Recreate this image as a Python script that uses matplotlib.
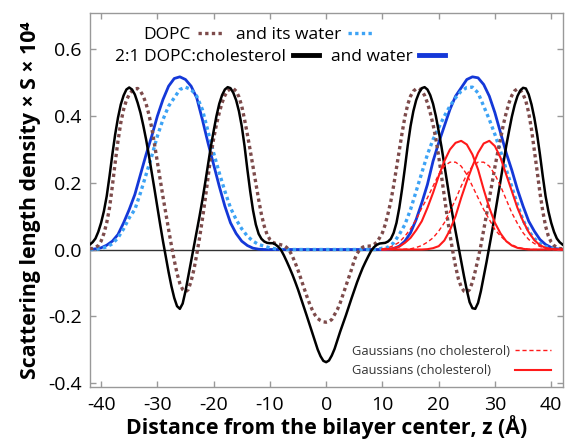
import numpy as np
import matplotlib
matplotlib.use("Agg")
import matplotlib.pyplot as plt

plt.rcParams['font.family'] = ['Open Sans', 'DejaVu Sans']
plt.rcParams['axes.unicode_minus'] = False

# distance from bilayer centre (A)
z_fine = np.arange(-42, 42.5, 0.5)   # sharp total profiles, read every 0.5 A
z = np.arange(-42, 43)               # water profiles, read every 1 A
zg = np.arange(10, 43)               # Gaussian components, right leaflet

# 2:1 DOPC:cholesterol, total profile (black)
chol = [0.015, 0.022, 0.033, 0.053, 0.08, 0.115, 0.16, 0.22, 0.285, 0.345,
        0.395, 0.435, 0.462, 0.48, 0.486, 0.48, 0.465, 0.44, 0.41, 0.372,
        0.33, 0.282, 0.232, 0.18, 0.127, 0.075, 0.025, -0.022, -0.068, -0.11,
        -0.145, -0.17, -0.178, -0.162, -0.125, -0.08, -0.035, 0.01, 0.055, 0.1,
        0.148, 0.2, 0.255, 0.308, 0.355, 0.4, 0.437, 0.463, 0.48, 0.487,
        0.484, 0.47, 0.448, 0.415, 0.37, 0.31, 0.24, 0.175, 0.118, 0.075,
        0.047, 0.032, 0.024, 0.02, 0.019, 0.019, 0.015, 0.008, -0.002, -0.018,
        -0.036, -0.055, -0.075, -0.097, -0.12, -0.145, -0.17, -0.196, -0.222, -0.248,
        -0.274, -0.3, -0.32, -0.334, -0.338,
        -0.333, -0.318, -0.298, -0.272, -0.246, -0.222, -0.198, -0.172, -0.147, -0.122,
        -0.098, -0.076, -0.055, -0.037, -0.02, -0.004, 0.007, 0.014, 0.018, 0.019,
        0.02, 0.024, 0.032, 0.05, 0.08, 0.125, 0.182, 0.245, 0.312, 0.37,
        0.415, 0.448, 0.47, 0.484, 0.487, 0.48, 0.463, 0.437, 0.4, 0.355,
        0.308, 0.255, 0.2, 0.148, 0.1, 0.055, 0.01, -0.035, -0.08, -0.122,
        -0.158, -0.176, -0.178, -0.16, -0.125, -0.082, -0.038, 0.008, 0.055, 0.105,
        0.155, 0.207, 0.258, 0.31, 0.355, 0.398, 0.433, 0.46, 0.477, 0.485,
        0.483, 0.465, 0.435, 0.395, 0.345, 0.285, 0.22, 0.16, 0.115, 0.08,
        0.053, 0.033, 0.022, 0.015]

# DOPC, total profile (brown dotted)
dopc = [0.002, 0.003, 0.006, 0.012, 0.025, 0.048, 0.08, 0.125, 0.19, 0.26,
        0.325, 0.38, 0.42, 0.448, 0.465, 0.476, 0.482, 0.483, 0.475, 0.46,
        0.437, 0.405, 0.365, 0.315, 0.262, 0.21, 0.158, 0.108, 0.06, 0.012,
        -0.032, -0.072, -0.102, -0.12, -0.127, -0.12, -0.095, -0.06, -0.015, 0.035,
        0.09, 0.15, 0.215, 0.28, 0.332, 0.375, 0.41, 0.44, 0.462, 0.476,
        0.482, 0.483, 0.475, 0.458, 0.43, 0.39, 0.345, 0.298, 0.248, 0.198,
        0.15, 0.105, 0.07, 0.045, 0.03, 0.022, 0.018, 0.016, 0.014, 0.012,
        0.006, -0.004, -0.02, -0.04, -0.062, -0.087, -0.112, -0.137, -0.16, -0.18,
        -0.196, -0.207, -0.213, -0.217, -0.218,
        -0.216, -0.21, -0.195, -0.18, -0.16, -0.135, -0.11, -0.085, -0.06, -0.032,
        -0.012, 0.0, 0.007, 0.01, 0.01, 0.011, 0.015, 0.022, 0.035, 0.05,
        0.075, 0.108, 0.145, 0.192, 0.245, 0.298, 0.35, 0.398, 0.435, 0.46,
        0.475, 0.482, 0.483, 0.477, 0.462, 0.44, 0.41, 0.375, 0.332, 0.28,
        0.22, 0.16, 0.1, 0.045, -0.005, -0.05, -0.088, -0.112, -0.125, -0.128,
        -0.12, -0.098, -0.065, -0.028, 0.012, 0.058, 0.105, 0.152, 0.2, 0.248,
        0.292, 0.332, 0.375, 0.41, 0.44, 0.462, 0.476, 0.482, 0.478, 0.466,
        0.445, 0.41, 0.36, 0.298, 0.235, 0.17, 0.115, 0.07, 0.04, 0.022,
        0.012, 0.006, 0.003, 0.002]

# water of the cholesterol sample (blue)
chol_water = [0.0, 0.002, 0.005, 0.013, 0.025, 0.045, 0.08, 0.12, 0.165, 0.225,
              0.285, 0.34, 0.4, 0.45, 0.49, 0.513, 0.518, 0.51, 0.49, 0.455,
              0.39, 0.32, 0.255, 0.19, 0.13, 0.08, 0.048, 0.025, 0.012, 0.004,
              0.001, 0.0, 0.0, 0.0, 0.0, 0.0, 0.0, 0.0, 0.0, 0.0,
              0.0, 0.0, 0.0, 0.0, 0.0, 0.0, 0.0, 0.0, 0.0, 0.0,
              0.0, 0.0, 0.0, 0.0, 0.003, 0.01, 0.025, 0.05, 0.09, 0.14,
              0.195, 0.265, 0.32, 0.37, 0.42, 0.46, 0.485, 0.51, 0.518, 0.515,
              0.495, 0.46, 0.41, 0.35, 0.29, 0.238, 0.18, 0.13, 0.085, 0.055,
              0.03, 0.015, 0.006, 0.002, 0.0]

# water of DOPC (light blue dotted)
dopc_water = [0.0, 0.0, 0.003, 0.008, 0.017, 0.035, 0.062, 0.095, 0.12, 0.17,
              0.225, 0.28, 0.34, 0.39, 0.43, 0.455, 0.48, 0.487, 0.48, 0.46,
              0.42, 0.355, 0.29, 0.23, 0.175, 0.125, 0.09, 0.062, 0.04, 0.025,
              0.015, 0.01, 0.005, 0.002, 0.0, 0.0, 0.0, 0.0, 0.0, 0.0,
              0.0, 0.0, 0.0, 0.0, 0.0, 0.0, 0.0, 0.0, 0.0, 0.0,
              0.0, 0.0, 0.004, 0.007, 0.02, 0.045, 0.075, 0.12, 0.175, 0.23,
              0.285, 0.33, 0.365, 0.4, 0.43, 0.455, 0.475, 0.486, 0.487, 0.47,
              0.43, 0.39, 0.345, 0.295, 0.24, 0.188, 0.135, 0.088, 0.055, 0.033,
              0.018, 0.009, 0.004, 0.001, 0.0]

# Gaussian components of the water peak
gauss_chol_1 = [0.0, 0.001, 0.004, 0.009, 0.02, 0.035, 0.058, 0.085, 0.125, 0.17,
                0.22, 0.265, 0.3, 0.32, 0.326, 0.315, 0.285, 0.24, 0.18, 0.125,
                0.08, 0.048, 0.025, 0.012, 0.005, 0.002, 0.0, 0.0, 0.0, 0.0,
                0.0, 0.0, 0.0]
gauss_chol_2 = [0.0, 0.0, 0.0, 0.0, 0.0, 0.0, 0.0, 0.0, 0.001, 0.004,
                0.01, 0.027, 0.058, 0.1, 0.155, 0.205, 0.25, 0.29, 0.318, 0.326,
                0.31, 0.275, 0.225, 0.175, 0.125, 0.085, 0.052, 0.028, 0.013, 0.005,
                0.002, 0.0, 0.0]
gauss_dopc_1 = [0.002, 0.005, 0.012, 0.022, 0.04, 0.062, 0.09, 0.125, 0.155, 0.19,
                0.225, 0.25, 0.262, 0.262, 0.25, 0.225, 0.19, 0.155, 0.12, 0.09,
                0.06, 0.04, 0.025, 0.014, 0.007, 0.003, 0.001, 0.0, 0.0, 0.0,
                0.0, 0.0, 0.0]
gauss_dopc_2 = [0.0, 0.0, 0.0, 0.0, 0.001, 0.002, 0.006, 0.012, 0.022, 0.035,
                0.055, 0.08, 0.115, 0.15, 0.19, 0.225, 0.25, 0.262, 0.262, 0.25,
                0.225, 0.19, 0.15, 0.11, 0.078, 0.05, 0.03, 0.018, 0.009, 0.004,
                0.001, 0.0, 0.0]

fig = plt.figure(figsize=(5.65, 4.42), dpi=100)
ax = fig.add_axes([0.159, 0.124, 0.8375, 0.847])

ax.axhline(0, color='#333333', lw=1.0, zorder=1)

dotted = (0, (1, 1))
l_cw, = ax.plot(z, chol_water, color='#1438d8', lw=2.0, zorder=2)
l_dw, = ax.plot(z, dopc_water, color='#3da3f5', lw=2.4, ls=dotted, zorder=3)
l_d, = ax.plot(z_fine, dopc, color='#7d4b4b', lw=2.4, ls=dotted, zorder=4)
l_c, = ax.plot(z_fine, chol, color='black', lw=1.8, zorder=5)

red = '#ff1a1a'
l_gd, = ax.plot(zg, gauss_dopc_1, color=red, lw=1.0, ls=(0, (3, 2)), zorder=6)
ax.plot(zg, gauss_dopc_2, color=red, lw=1.0, ls=(0, (3, 2)), zorder=6)
l_gc, = ax.plot(zg, gauss_chol_1, color=red, lw=1.5, zorder=7)
ax.plot(zg, gauss_chol_2, color=red, lw=1.5, zorder=7)

ax.set_xlim(-42, 42.1)
ax.set_ylim(-0.413, 0.71)
ax.set_xticks([-40, -30, -20, -10, 0, 10, 20, 30, 40])
ax.set_yticks([-0.4, -0.2, 0.0, 0.2, 0.4, 0.6])
ax.set_yticklabels(['-0.4', '-0.2', '0.0', '0.2', '0.4', '0.6'])

for s in ax.spines.values():
    s.set_color('#999999')
    s.set_linewidth(1.0)
ax.tick_params(direction='in', top=True, right=True, length=4, width=1,
               color='#999999', labelsize=14, pad=6)

ax.set_xlabel('Distance from the bilayer center, z (Å)', fontsize=15.3,
              fontweight='bold', labelpad=1)
ax.set_ylabel('Scattering length density × S × 10⁴', fontsize=15.3,
              fontweight='bold', labelpad=5)

common = dict(frameon=False, markerfirst=False, ncol=2, loc='center',
              fontsize=12.5, handlelength=1.5, handletextpad=0.4,
              columnspacing=0.7, borderpad=0, borderaxespad=0)
leg1 = ax.legend([l_d, l_dw], ['DOPC', 'and its water'],
                 bbox_to_anchor=(0.357, 0.94), **common)
ax.add_artist(leg1)
leg2 = ax.legend([l_c, l_cw], ['2:1 DOPC:cholesterol', 'and water'],
                 bbox_to_anchor=(0.402, 0.883), **common)
for ln in leg2.get_lines():
    ln.set_linewidth(3.5)
ax.add_artist(leg2)
leg3 = ax.legend([l_gd, l_gc], ['Gaussians (no cholesterol)', 'Gaussians (cholesterol)'],
                 frameon=False, markerfirst=False, loc='center',
                 bbox_to_anchor=(0.765, 0.07), fontsize=9.3, handlelength=2.8,
                 handletextpad=0.4, labelspacing=0.5, borderpad=0, borderaxespad=0,
                 labelcolor='#333333')

# left-align the labels and right-align the samples in the Gaussian legend
try:
    fig.canvas.draw()
    renderer = fig.canvas.get_renderer()
    items = leg3._legend_handle_box.get_children()[0].get_children()
    w = max(it.get_bbox(renderer).width for it in items)
    for it in items:
        it.mode = 'expand'
        it.width = w
except Exception:
    pass

fig.savefig('out.png', dpi=100)
